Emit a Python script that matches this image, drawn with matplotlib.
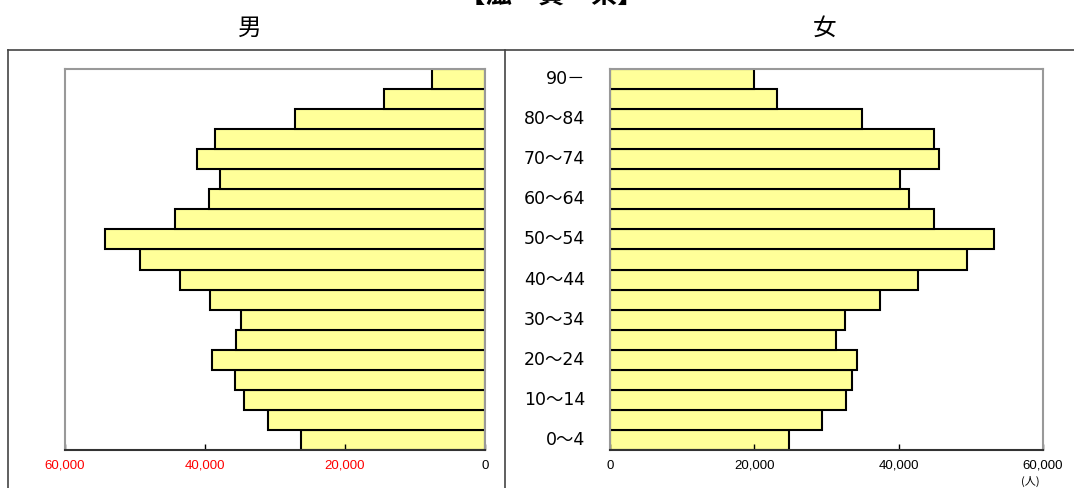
import matplotlib.pyplot as plt
import numpy as np

plt.rcParams['font.family'] = ['Noto Sans CJK JP', 'DejaVu Sans']

# age groups from youngest to oldest
age_groups = ['0〜4', '5〜9', '10〜14', '15〜19', '20〜24', '25〜29', '30〜34',
              '35〜39', '40〜44', '45〜49', '50〜54', '55〜59', '60〜64',
              '65〜69', '70〜74', '75〜79', '80〜84', '85〜89', '90－']
male = [26300, 31000, 34400, 35700, 39000, 35600, 34900, 39300, 43600, 49300,
        54300, 44300, 39400, 37900, 41100, 38600, 27100, 14400, 7600]
female = [24800, 29400, 32700, 33500, 34200, 31300, 32600, 37400, 42700, 49500,
          53200, 44900, 41400, 40200, 45600, 44900, 34900, 23100, 20000]
xticks = [0, 20000, 40000, 60000]
xtick_labels = ['0', '20,000', '40,000', '60,000']

bar_color = '#ffff99'
y = np.arange(len(age_groups))

fig = plt.figure(figsize=(10.74, 4.88), dpi=100)

# outer frame lines
fig.add_artist(plt.Line2D([8 / 1074, 1074 / 1074], [1 - 50 / 488, 1 - 50 / 488],
                          color='#444444', lw=1.2))
fig.add_artist(plt.Line2D([8 / 1074, 8 / 1074], [0, 1 - 50 / 488],
                          color='#444444', lw=1.2))
fig.add_artist(plt.Line2D([505 / 1074, 505 / 1074], [0, 1 - 50 / 488],
                          color='#444444', lw=1.2))

bottom = 1 - 450 / 488
height = (450 - 69) / 488

ax_m = fig.add_axes([65 / 1074, bottom, 420 / 1074, height])
ax_f = fig.add_axes([610 / 1074, bottom, 433 / 1074, height])

ax_m.barh(y, male, height=1.0, color=bar_color, edgecolor='black', linewidth=1.5)
ax_f.barh(y, female, height=1.0, color=bar_color, edgecolor='black', linewidth=1.5)

ax_m.set_xlim(60000, 0)
ax_f.set_xlim(0, 60000)

for ax in (ax_m, ax_f):
    ax.set_ylim(-0.5, len(age_groups) - 0.5)
    ax.set_yticks([])
    ax.set_xticks(xticks)
    ax.tick_params(axis='x', direction='in', length=4, width=1, pad=7,
                   labelsize=9.5)
    for s in ('top', 'left', 'right'):
        ax.spines[s].set_color('#999999')
        ax.spines[s].set_linewidth(1.5)
    ax.spines['bottom'].set_color('#333333')
    ax.spines['bottom'].set_linewidth(1.5)

ax_m.set_xticklabels(xtick_labels, family=['Liberation Sans', 'DejaVu Sans'])
for lbl in ax_m.get_xticklabels():
    lbl.set_color('black' if lbl.get_text() == '0' else 'red')
ax_f.set_xticklabels(xtick_labels, family=['Liberation Sans', 'DejaVu Sans'])

# age labels in the middle, every other group
for i in range(0, len(age_groups), 2):
    ax_f.text(-0.058, i, age_groups[i], transform=ax_f.get_yaxis_transform(),
              ha='right', va='center', fontsize=12.5,
              family=['DejaVu Sans', 'Noto Sans CJK JP'])

fig.text(1030 / 1074, 1 - 481 / 488, '(人)', ha='center', va='center', fontsize=8)

fig.text(551 / 1074, 1 + 4 / 488, '【滋　賀　県】', ha='center', va='center',
         fontsize=19, fontweight='bold')
fig.text(250 / 1074, 1 - 28 / 488, '男', ha='center', va='center', fontsize=17)
fig.text(825 / 1074, 1 - 28 / 488, '女', ha='center', va='center', fontsize=17)

fig.savefig('out.png', dpi=100)
